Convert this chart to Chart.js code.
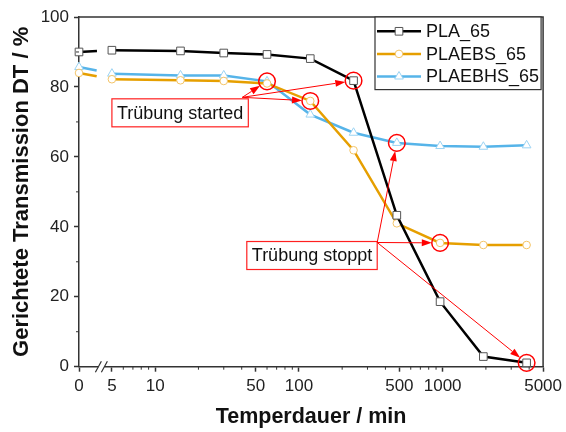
<!DOCTYPE html>
<html>
<head>
<meta charset="utf-8">
<script src="https://cdn.jsdelivr.net/npm/chart.js@4.4.0/dist/chart.umd.min.js"></script>
<style>
  html, body { margin: 0; padding: 0; background: #fff; }
  #wrap { width: 566px; height: 432px; }
</style>
</head>
<body>
<div id="wrap"><canvas id="chart"></canvas></div>
<script>
// Temperdauer in min (0 is drawn left of the axis break)
const times = [0, 5, 15, 30, 60, 120, 240, 480, 960, 1920, 3840];
const pla65 = [90.0, 90.5, 90.3, 89.7, 89.3, 88.1, 81.8, 43.3, 18.6, 2.9, 1.1];
const plaebs65 = [84.0, 82.2, 81.9, 81.7, 81.0, 76.0, 61.9, 41.0, 35.4, 34.8, 34.8];
const plaebhs65 = [85.7, 83.8, 83.3, 83.3, 81.6, 72.1, 66.9, 64.0, 63.1, 62.9, 63.3];
const seriesNames = ['PLA_65', 'PLAEBS_65', 'PLAEBHS_65'];

const xTickLabels = [0, 5, 10, 50, 100, 500, 1000, 5000];
const xMinorTicks = [6, 7, 8, 9, 20, 30, 40, 60, 70, 80, 90, 200, 300, 400, 600, 700, 800, 900, 2000, 3000, 4000];
const yMinorTicks = [10, 30, 50, 70, 90];

// [dataset, time] of the circled points
const startedAt = [[2, 60], [1, 120], [0, 240]];
const stoppedAt = [[2, 480], [1, 960], [0, 3840]];

const ZERO_POS = 0.47; // where t = 0 sits on the log axis
const toAxis = t => t === 0 ? ZERO_POS : Math.log10(t);

const FONT = "'Liberation Sans', Arial, sans-serif";
const AXIS = '#333';

function pts(vals) {
  return times.map((t, i) => ({ x: toAxis(t), y: vals[i] }));
}

function drawMarker(ctx, style, x, y, r, fill, stroke) {
  ctx.save();
  ctx.fillStyle = fill;
  ctx.strokeStyle = stroke;
  ctx.lineWidth = 1;
  ctx.beginPath();
  if (style === 'rect') {
    const s = r * Math.SQRT1_2;
    ctx.rect(x - s, y - s, 2 * s, 2 * s);
  } else if (style === 'triangle') {
    ctx.moveTo(x, y - r);
    ctx.lineTo(x + r * 0.866, y + r * 0.5);
    ctx.lineTo(x - r * 0.866, y + r * 0.5);
    ctx.closePath();
  } else {
    ctx.arc(x, y, r, 0, Math.PI * 2);
  }
  ctx.fill();
  ctx.stroke();
  ctx.restore();
}

function arrow(ctx, x0, y0, x1, y1) {
  const a = Math.atan2(y1 - y0, x1 - x0);
  const len = 10, w = 3.5;
  const bx = x1 - len * Math.cos(a), by = y1 - len * Math.sin(a);
  ctx.beginPath();
  ctx.moveTo(x0, y0);
  ctx.lineTo(bx, by);
  ctx.stroke();
  ctx.beginPath();
  ctx.moveTo(x1, y1);
  ctx.lineTo(bx - w * Math.sin(a), by + w * Math.cos(a));
  ctx.lineTo(bx + w * Math.sin(a), by - w * Math.cos(a));
  ctx.closePath();
  ctx.fill();
}

const decorations = {
  id: 'decorations',
  afterDraw(chart) {
    const ctx = chart.ctx;
    const { left, right, top, bottom } = chart.chartArea;
    const xs = chart.scales.x, ys = chart.scales.y;
    ctx.save();

    // frame
    ctx.strokeStyle = AXIS;
    ctx.lineWidth = 1.5;
    ctx.beginPath();
    ctx.moveTo(left, top);
    ctx.lineTo(right, top);
    ctx.lineTo(right, bottom);
    ctx.stroke();

    // minor ticks
    ctx.lineWidth = 1;
    ctx.beginPath();
    xMinorTicks.forEach(t => {
      const px = xs.getPixelForValue(toAxis(t));
      ctx.moveTo(px, bottom);
      ctx.lineTo(px, bottom + 3);
    });
    yMinorTicks.forEach(v => {
      const py = ys.getPixelForValue(v);
      ctx.moveTo(left, py);
      ctx.lineTo(left - 3, py);
    });
    ctx.stroke();

    // axis break
    const x0 = xs.getPixelForValue(toAxis(0)), x5 = xs.getPixelForValue(toAxis(5));
    const bx = x0 + 0.68 * (x5 - x0);
    ctx.fillStyle = '#fff';
    ctx.fillRect(bx - 3, bottom - 2, 6, 4);
    ctx.lineWidth = 1.2;
    ctx.beginPath();
    ctx.moveTo(bx - 6, bottom + 5.5); ctx.lineTo(bx, bottom - 5.5);
    ctx.moveTo(bx, bottom + 5.5); ctx.lineTo(bx + 6, bottom - 5.5);
    ctx.stroke();

    // annotations
    const boxes = [
      { text: 'Trübung started', t: 5, v: 76.6, marks: startedAt, ox: -6, oy: -1.5 },
      { text: 'Trübung stoppt', t: 43.4, v: 35.8, marks: stoppedAt, ox: 0, oy: 1 }
    ];
    ctx.font = '18px ' + FONT;
    boxes.forEach(b => {
      const bxl = xs.getPixelForValue(toAxis(b.t));
      const byt = ys.getPixelForValue(b.v);
      const w = ctx.measureText(b.text).width + 10;
      const h = 28;
      ctx.fillStyle = '#fff';
      ctx.fillRect(bxl, byt, w, h);
      ctx.strokeStyle = '#ff2020';
      ctx.lineWidth = 1.2;
      ctx.strokeRect(bxl, byt, w, h);
      ctx.fillStyle = '#111';
      ctx.textBaseline = 'middle';
      ctx.textAlign = 'left';
      ctx.fillText(b.text, bxl + 5, byt + h / 2 + 1);

      const sx = bxl + w + b.ox, sy = byt + b.oy;
      ctx.strokeStyle = '#ff0000';
      ctx.fillStyle = '#ff0000';
      b.marks.forEach(([ds, t]) => {
        const p = chart.getDatasetMeta(ds).data[times.indexOf(t)];
        const r = 8.3;
        ctx.lineWidth = 1.5;
        ctx.beginPath();
        ctx.arc(p.x, p.y, r, 0, Math.PI * 2);
        ctx.stroke();
        const d = Math.hypot(p.x - sx, p.y - sy);
        ctx.lineWidth = 1;
        arrow(ctx, sx, sy, p.x - r * (p.x - sx) / d, p.y - r * (p.y - sy) / d);
      });
    });

    // legend
    const lx = 375, ly = top, lw = right - 2 - lx, lh = 72.6;
    ctx.fillStyle = '#fff';
    ctx.fillRect(lx, ly, lw, lh);
    ctx.strokeStyle = AXIS;
    ctx.lineWidth = 1.2;
    ctx.strokeRect(lx, ly, lw, lh);
    chart.data.datasets.forEach((d, i) => {
      const cy = ly + 14.3 + i * 22.6;
      ctx.strokeStyle = d.borderColor;
      ctx.lineWidth = d.borderWidth;
      ctx.beginPath();
      ctx.moveTo(lx + 2, cy);
      ctx.lineTo(lx + 46, cy);
      ctx.stroke();
      drawMarker(ctx, d.pointStyle, lx + 24, cy, d.pointRadius, d.pointBackgroundColor, d.pointBorderColor);
      ctx.fillStyle = '#111';
      ctx.textBaseline = 'middle';
      ctx.fillText(d.label, lx + 51, cy + 1);
    });
    ctx.restore();
  }
};

// the segment across the axis break is only drawn up to the break
const firstGap = c => c.p0DataIndex === 0 ? [18, 60] : undefined;

new Chart(document.getElementById('chart'), {
  type: 'line',
  data: {
    datasets: [
      {
        label: seriesNames[0], data: pts(pla65),
        borderColor: '#000', borderWidth: 2.5,
        pointStyle: 'rect', pointRadius: 5.4, pointBackgroundColor: '#fff',
        pointBorderColor: '#555', pointBorderWidth: 1
      },
      {
        label: seriesNames[1], data: pts(plaebs65),
        borderColor: '#E69F00', borderWidth: 2.5,
        pointStyle: 'circle', pointRadius: 3.8, pointBackgroundColor: '#fff',
        pointBorderColor: '#F3C468', pointBorderWidth: 1
      },
      {
        label: seriesNames[2], data: pts(plaebhs65),
        borderColor: '#56B4E9', borderWidth: 2.5,
        pointStyle: 'triangle', pointRadius: 5, pointBackgroundColor: '#fff',
        pointBorderColor: '#9BD3F3', pointBorderWidth: 1
      }
    ].map(d => Object.assign(d, { tension: 0, clip: false, segment: { borderDash: firstGap } }))
  },
  options: {
    responsive: true,
    maintainAspectRatio: false,
    animation: false,
    layout: { padding: { top: 17, right: 21, left: 0, bottom: 0 } },
    plugins: { legend: { display: false }, tooltip: { enabled: false } },
    scales: {
      x: {
        type: 'linear',
        min: ZERO_POS,
        max: Math.log10(5000),
        afterBuildTicks: s => { s.ticks = xTickLabels.map(t => ({ value: toAxis(t) })); },
        afterFit: s => { s.height = 65.3; },
        ticks: {
          autoSkip: false, maxRotation: 0, padding: 4,
          color: '#222', font: { family: FONT, size: 17 },
          callback: (v, i) => String(xTickLabels[i])
        },
        grid: { drawOnChartArea: false, tickLength: 5, tickColor: AXIS, tickWidth: 1.5 },
        border: { color: AXIS, width: 1.5 },
        title: {
          display: true, text: 'Temperdauer / min', color: '#111',
          font: { family: FONT, size: 21.5, weight: 'bold' }, padding: { top: 0, bottom: 2 }
        }
      },
      y: {
        min: 0, max: 100,
        afterFit: s => { s.width = 79; },
        ticks: { stepSize: 20, padding: 5, color: '#222', font: { family: FONT, size: 17 } },
        grid: { drawOnChartArea: false, tickLength: 5, tickColor: AXIS, tickWidth: 1.5 },
        border: { color: AXIS, width: 1.5 },
        title: {
          display: true, text: 'Gerichtete Transmission DT / %', color: '#111',
          font: { family: FONT, size: 22, weight: 'bold' }, padding: { top: 9, bottom: 0 }
        }
      }
    }
  },
  plugins: [decorations]
});
</script>
</body>
</html>
